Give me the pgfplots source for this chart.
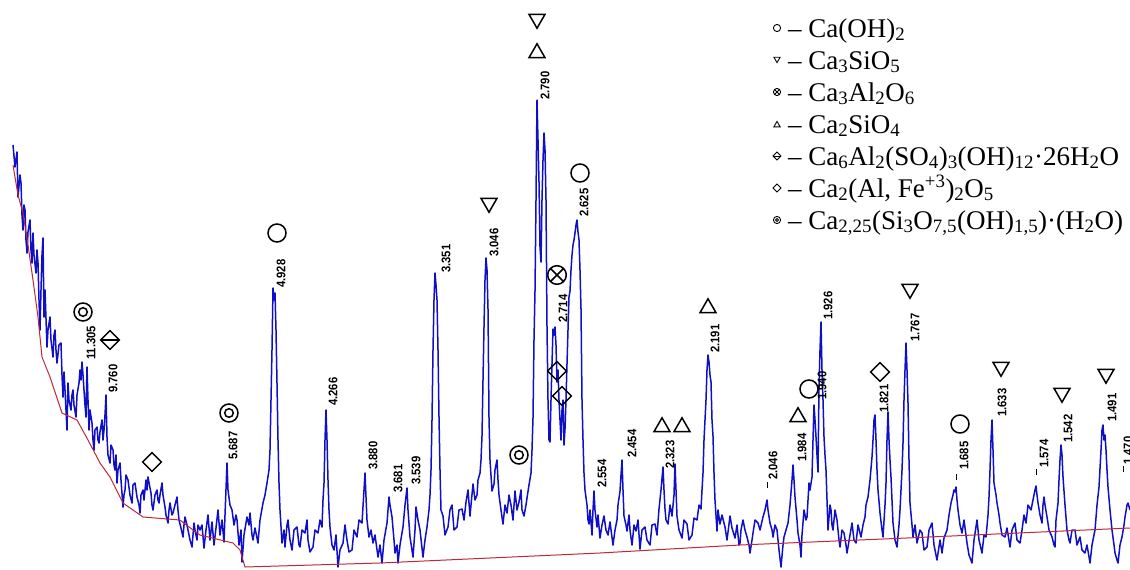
\documentclass[border=0pt]{standalone}
\usepackage{fontspec}
\setmainfont{Liberation Serif}
\newfontfamily\lblfont[FakeStretch=0.9]{Liberation Sans}
\usepackage{pgfplots}
\pgfplotsset{compat=1.18}
\usetikzlibrary{plotmarks}
\definecolor{xrdblue}{RGB}{15,15,200}
\definecolor{basered}{RGB}{190,40,55}
\newcommand\lbl[3]{\node[rotate=90,anchor=west,inner sep=0pt,font=\lblfont\bfseries\fontsize{12.5}{12.5}\selectfont] at (axis cs:#1,#2) {#3};}
\newcommand\leg[2]{\node[anchor=base west,inner sep=0pt,font=\fontsize{27}{30}\selectfont] at (axis cs:788,#1) {#2};}
\begin{document}
\begin{tikzpicture}
\path[use as bounding box] (0,0) rectangle (1130pt,570pt);
\clip (0,0) rectangle (1130pt,570pt);
\begin{axis}[at={(0,0)},anchor=south west,scale only axis,width=1130pt,height=570pt,
  xmin=0,xmax=1130,ymin=0,ymax=570,y dir=reverse,hide axis,clip=false]
% XRD pattern (pixel-like coordinates)
\addplot[xrdblue,line width=1.5pt,line join=round] table {
x y
13 145
15 167
17 152
18 197
20 175
21 183
22 215
23 230
24 205
25 210
26 240
27 253
28 232
30 220
31 250
32 263
33 233
34 255
36 273
37 250
38 263
39 300
40 330
41 290
42 255
43 238
44 317
45 290
47 347
48 330
50 317
51 340
53 357
54 335
55 330
56 350
57 363
59 345
61 343
62 375
63 397
64 372
65 390
66 410
67 430
68 383
69 400
71 410
72 395
73 390
74 405
76 417
77 395
79 383
80 370
81 380
82 362
83 375
84 390
85 405
86 417
87 367
88 400
89 430
90 410
92 423
93 440
94 450
95 430
97 427
98 440
99 443
100 432
102 420
103 440
104 430
105 415
106 395
107 437
108 455
110 463
111 445
113 450
114 465
115 470
116 455
117 483
118 470
120 463
121 480
123 507
124 495
125 490
126 475
128 480
130 495
132 503
133 485
135 483
136 490
137 497
139 505
140 513
141 495
143 490
144 500
146 480
147 490
148 477
150 488
151 493
152 505
153 510
155 495
157 490
158 500
159 503
160 495
162 483
163 495
165 507
166 515
168 523
169 510
170 503
172 515
173 513
175 505
177 497
178 510
179 520
181 528
183 537
184 525
185 517
187 525
188 530
190 540
192 547
193 535
194 523
195 530
197 540
198 525
200 530
202 525
204 548
206 530
208 515
210 540
212 522
214 545
216 528
218 510
220 535
222 520
224 542
225 515
227 463
228 490
230 505
232 510
234 525
236 515
237 520
239 545
241 530
242 562
244 535
247 517
249 525
250 513
252 535
253 540
255 528
258 543
260 520
263 503
265 495
267 483
269 470
270 450
271 400
272 350
273 288
274 300
275 293
276 330
277 383
278 440
279 483
280 510
282 543
284 530
285 547
287 525
288 520
290 540
292 550
294 530
297 527
299 545
300 547
302 530
305 533
307 520
308 540
310 552
313 547
315 530
318 533
320 520
322 527
323 500
324 483
325 440
326 410
327 440
328 480
329 510
330 527
332 545
334 550
336 535
338 567
340 550
343 543
345 525
347 540
349 552
352 550
354 530
357 537
359 520
362 523
364 490
365 473
366 497
367 520
369 537
371 530
373 543
375 535
378 557
380 545
382 563
384 540
387 523
388 510
389 497
390 505
392 517
394 540
395 553
397 545
398 563
400 545
403 527
405 505
407 488
408 510
410 537
412 550
413 557
415 530
416 507
418 520
420 530
422 548
423 557
425 540
427 527
429 510
430 495
431 470
432 420
433 350
434 300
435 273
436 285
437 300
438 350
439 417
440 470
441 510
443 516
445 535
448 527
450 510
452 505
454 530
457 527
459 510
462 509
464 520
466 502
468 490
470 516
471 505
473 484
475 500
477 495
478 480
480 473
481 460
482 436
483 380
484 327
485 280
486 258
487 270
488 309
489 418
490 460
492 491
494 484
495 470
497 460
498 480
499 495
501 510
503 524
505 505
507 513
509 495
511 505
513 520
515 491
517 510
519 502
521 490
522 510
524 516
526 505
527 498
529 485
531 473
532 450
533 418
534 340
535 291
536 200
537 100
538 140
539 182
540 247
541 262
542 200
543 160
544 133
545 150
546 200
547 327
548 400
549 440
550 442
551 400
552 364
553 329
554 335
555 327
556 345
557 382
558 370
559 400
560 420
561 440
562 410
563 400
564 445
565 429
566 400
567 364
568 330
569 297
570 291
571 270
572 255
573 245
574 240
575 233
576 225
577 220
578 232
579 240
580 270
581 309
582 400
583 440
584 473
585 490
587 505
588 520
589 524
590 510
592 535
593 510
594 491
595 510
597 527
598 515
600 538
602 525
604 516
606 530
608 535
610 522
613 545
615 530
617 520
618 505
620 491
621 475
622 460
623 490
624 516
626 525
627 531
629 515
630 530
632 545
634 525
636 531
638 520
640 549
642 530
645 527
647 540
650 545
652 525
655 524
657 535
659 509
661 490
663 467
664 490
665 509
666 520
668 524
670 505
672 516
674 495
675 464
676 490
677 516
679 530
682 538
684 520
687 524
689 540
692 535
694 518
697 520
699 505
701 509
702 490
703 473
704 440
706 400
707 370
708 355
709 362
710 375
711 382
712 420
713 436
714 473
715 500
717 531
718 510
720 524
722 515
725 527
727 540
730 516
732 528
735 538
737 525
739 545
740 543
741 530
743 520
745 530
747 537
749 545
750 553
752 540
753 533
755 520
758 523
760 530
763 517
765 510
767 500
768 510
770 523
772 530
773 537
775 525
777 530
779 550
781 567
783 545
784 537
786 530
788 523
790 505
792 480
793 465
794 480
795 497
797 520
798 533
800 545
801 557
802 535
804 510
806 520
807 517
808 500
809 483
810 490
812 477
813 440
814 405
815 420
816 437
817 455
818 472
819 387
820 350
821 322
822 370
823 400
824 437
825 455
826 470
827 500
828 530
830 505
831 510
832 525
833 530
835 510
837 520
839 540
840 547
842 530
844 533
846 545
847 553
850 535
852 523
854 540
856 543
858 525
861 537
863 525
865 517
866 505
868 497
870 480
872 457
873 440
874 420
875 415
876 440
877 470
878 490
880 513
882 530
883 537
885 505
886 483
887 440
888 412
889 440
890 460
891 477
892 500
893 523
895 540
897 547
899 525
900 510
901 490
902 470
903 443
904 400
905 370
906 343
907 370
908 403
909 460
910 503
912 525
913 537
915 525
917 543
920 530
922 533
924 550
927 547
929 530
932 523
934 545
937 560
940 540
942 553
944 538
947 530
949 515
951 503
953 495
954 490
955 492
956 487
957 500
958 510
960 525
962 533
964 520
967 543
969 555
972 563
974 540
977 520
979 540
982 553
984 535
986 537
988 515
989 497
990 470
991 440
992 420
993 450
994 483
996 495
997 503
999 515
1000 523
1002 535
1005 537
1007 528
1010 547
1012 530
1015 523
1017 540
1020 543
1022 530
1024 515
1026 523
1028 505
1031 510
1033 500
1035 490
1036 486
1037 495
1038 503
1040 515
1042 523
1043 505
1044 497
1045 505
1047 517
1049 530
1052 537
1054 545
1055 547
1056 520
1058 503
1059 480
1060 460
1061 445
1062 455
1063 477
1065 505
1067 530
1069 540
1070 543
1072 530
1075 530
1077 545
1080 537
1082 550
1085 553
1087 545
1090 563
1092 545
1095 530
1097 505
1099 487
1101 450
1102 430
1103 425
1104 440
1105 435
1106 450
1107 470
1108 487
1110 510
1112 530
1114 545
1115 553
1117 560
1118 563
1120 545
1122 537
1124 525
1125 517
1127 505
1128 503
1130 510
};
% background line
\addplot[basered,line width=1pt] table {
x y
13 165
18 195
23 213
28 245
33 280
38 317
42 357
50 377
62 413
77 420
88 440
100 463
110 477
123 503
143 517
180 520
193 530
200 535
233 543
240 550
245 567
380 563
600 553
740 545
907 538
1130 528
};
% phase markers
\pgfplotsset{every axis plot/.append style={black}}
\addplot[only marks,mark=o,mark size=9pt,mark options={line width=1.5pt}] coordinates {(277,233) (580,173) (809,389) (960,424)};
\addplot[only marks,mark=triangle,mark size=9.2pt,mark options={rotate=180,line width=1.5pt}] coordinates {(489,203) (537,19) (910,289) (1001,367) (1062,393) (1106,374)};
\addplot[only marks,mark=triangle,mark size=9.2pt,mark options={line width=1.5pt}] coordinates {(537,53) (662,427) (682,427) (708,308) (798,417)};
\addplot[only marks,mark=square,mark size=6.6pt,mark options={rotate=45,line width=1.5pt}] coordinates {(152,462) (557,371) (562,396) (880,372) (110,340)};
\addplot[only marks,mark=-,mark size=9.3pt,mark options={line width=1.5pt}] coordinates {(110,340)};
\addplot[only marks,mark=o,mark size=9pt,mark options={line width=1.5pt}] coordinates {(83,312) (229,413) (519,455)};
\addplot[only marks,mark=o,mark size=4.3pt,mark options={line width=1.5pt}] coordinates {(83,312) (229,413) (519,455)};
\addplot[only marks,mark=otimes,mark size=9.3pt,mark options={line width=1.5pt}] coordinates {(557,275)};
% peak labels
\lbl{91}{360}{11.305}
\lbl{113}{393}{9.760}
\lbl{233}{460}{5.687}
\lbl{281}{288}{4.928}
\lbl{333}{406}{4.266}
\lbl{373}{470}{3.880}
\lbl{398}{493}{3.681}
\lbl{416}{485}{3.539}
\lbl{446}{273}{3.351}
\lbl{494}{257}{3.046}
\lbl{545}{100}{2.790}
\lbl{563}{323}{2.714}
\lbl{584}{217}{2.625}
\lbl{602}{488}{2.554}
\lbl{632}{458}{2.454}
\lbl{670}{469}{2.323}
\lbl{715}{353}{2.191}
\lbl{773}{480}{2.046}
\lbl{802}{462}{1.984}
\lbl{822}{400}{1.940}
\lbl{828}{320}{1.926}
\lbl{884}{413}{1.821}
\lbl{915}{342}{1.767}
\lbl{964}{470}{1.685}
\lbl{1002}{417}{1.633}
\lbl{1044}{468}{1.574}
\lbl{1068}{443}{1.542}
\lbl{1112}{422}{1.491}
\lbl{1128}{465}{1.470}
\draw[black,line width=0.9pt] (axis cs:767,482) -- (axis cs:767,488);
\draw[black,line width=0.9pt] (axis cs:956,474) -- (axis cs:956,480);
\draw[black,line width=0.9pt] (axis cs:1036,469) -- (axis cs:1036,475);
\draw[black,line width=0.9pt] (axis cs:1123,466) -- (axis cs:1123,472);
% legend
\addplot[only marks,mark=o,mark size=3.6pt,mark options={line width=0.9pt}] coordinates {(777,28)};
\addplot[only marks,mark=triangle,mark size=3.6pt,mark options={rotate=180,line width=0.9pt}] coordinates {(777,59)};
\addplot[only marks,mark=otimes,mark size=3.6pt,mark options={line width=0.9pt}] coordinates {(777,92)};
\addplot[only marks,mark=triangle,mark size=3.6pt,mark options={line width=0.9pt}] coordinates {(777,125)};
\addplot[only marks,mark=square,mark size=2.8pt,mark options={rotate=45,line width=0.9pt}] coordinates {(777,156) (777,188)};
\addplot[only marks,mark=-,mark size=3.9pt,mark options={line width=0.9pt}] coordinates {(777,156)};
\addplot[only marks,mark=o,mark size=3.6pt,mark options={line width=0.9pt}] coordinates {(777,220)};
\addplot[only marks,mark=o,mark size=1.6pt,mark options={line width=0.9pt}] coordinates {(777,220)};
\leg{37}{-- Ca(OH)\textsubscript{2}}
\leg{69}{-- Ca\textsubscript{3}SiO\textsubscript{5}}
\leg{101}{-- Ca\textsubscript{3}Al\textsubscript{2}O\textsubscript{6}}
\leg{133}{-- Ca\textsubscript{2}SiO\textsubscript{4}}
\leg{165}{-- Ca\textsubscript{6}Al\textsubscript{2}(SO\textsubscript{4})\textsubscript{3}(OH)\textsubscript{12}·26H\textsubscript{2}O}
\leg{197}{-- Ca\textsubscript{2}(Al, Fe\textsuperscript{+3})\textsubscript{2}O\textsubscript{5}}
\leg{229}{-- Ca\textsubscript{2,25}(Si\textsubscript{3}O\textsubscript{7,5}(OH)\textsubscript{1,5})·(H\textsubscript{2}O)}
\end{axis}
\end{tikzpicture}
\end{document}
